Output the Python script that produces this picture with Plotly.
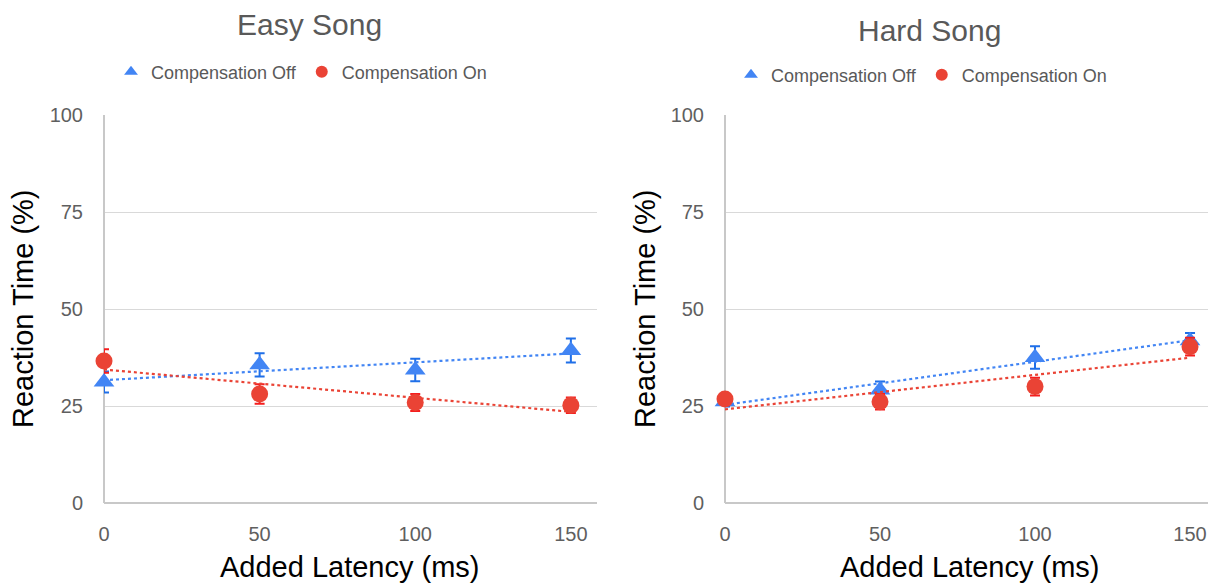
import numpy as np
import plotly.graph_objects as go

latency = [0, 50, 100, 150]
tick_vals_x = [0, 50, 100, 150]
tick_vals_y = [0, 25, 50, 75, 100]

easy_off = [31.2, 35.6, 34.3, 39.3]
easy_off_err = [2.7, 3.0, 2.9, 3.1]
easy_on = [36.6, 28.1, 25.9, 25.2]
easy_on_err = [3.0, 2.5, 2.2, 2.0]

hard_off = [26.1, 29.1, 37.5, 41.8]
hard_off_err = [1.2, 2.2, 2.9, 2.0]
hard_on = [26.8, 26.1, 30.0, 40.3]
hard_on_err = [1.3, 2.0, 2.3, 2.3]

BLUE = "#4285F4"
RED = "#EA4335"
BLUE_ERR = "#1F6FE8"
RED_ERR = "#F51E1E"
FONT = "Arial, 'Liberation Sans', sans-serif"

fig = go.Figure()


def add_series(xa, ya, y, err, color, ecolor, symbol, size, name, legend):
    fig.add_trace(go.Scatter(
        x=latency, y=y, mode="markers", xaxis=xa, yaxis=ya,
        marker=dict(color=color, size=size, symbol=symbol),
        error_y=dict(type="data", array=err, color=ecolor, thickness=2, width=5),
        showlegend=False, cliponaxis=False, name=name))
    # linear trendline
    slope, intercept = np.polyfit(latency, y, 1)
    xs = np.array([latency[0], latency[-1]])
    fig.add_trace(go.Scatter(
        x=xs, y=slope * xs + intercept, mode="lines", xaxis=xa, yaxis=ya,
        line=dict(color=color, width=2.2, dash="dot"), showlegend=False,
        hoverinfo="skip", cliponaxis=False))
    # legend entry
    fig.add_trace(go.Scatter(
        x=[None], y=[None], mode="markers", xaxis=xa, yaxis=ya,
        marker=dict(color=color, size=12, symbol=symbol),
        name=name, legend=legend, showlegend=True))


add_series("x", "y", easy_off, easy_off_err, BLUE, BLUE_ERR, "triangle-up", 18, "Compensation Off", "legend")
add_series("x", "y", easy_on, easy_on_err, RED, RED_ERR, "circle", 17, "Compensation On", "legend")
add_series("x2", "y2", hard_off, hard_off_err, BLUE, BLUE_ERR, "triangle-up", 18, "Compensation Off", "legend2")
add_series("x2", "y2", hard_on, hard_on_err, RED, RED_ERR, "circle", 17, "Compensation On", "legend2")

W, H = 1208, 583
ydom = [1 - 503 / H, 1 - 115 / H]

axis_common_x = dict(showgrid=False, zeroline=True, zerolinecolor="#c8c8c8", zerolinewidth=1.5,
                     showline=False, automargin=False,
                     tickvals=tick_vals_x, ticklabelstandoff=17,
                     tickfont=dict(family=FONT, size=20, color="#5f5f5f"))
axis_common_y = dict(range=[0, 100], tickvals=tick_vals_y, showgrid=True, automargin=False,
                     gridcolor="#d9d9d9", gridwidth=1,
                     zeroline=True, zerolinecolor="#c8c8c8", zerolinewidth=1.5,
                     showline=False,
                     ticklabelstandoff=20,
                     tickfont=dict(family=FONT, size=20, color="#5f5f5f"))

legend_common = dict(orientation="h", yanchor="middle", xanchor="left",
                     font=dict(family=FONT, size=18, color="#595959"),
                     bgcolor="rgba(0,0,0,0)", itemwidth=30, tracegroupgap=0)


def ann(text, x, y, size, color, angle=0):
    return dict(text=text, x=x / W, y=1 - y / H, xref="paper", yref="paper",
                xanchor="center", yanchor="middle", showarrow=False, textangle=angle,
                font=dict(family=FONT, size=size, color=color))


fig.update_layout(
    width=W, height=H, autosize=False,
    margin=dict(l=0, r=0, t=0, b=0, pad=0),
    paper_bgcolor="white", plot_bgcolor="white",
    xaxis=dict(domain=[104 / W, 597 / W], range=[0, 158.4], anchor="y", **axis_common_x),
    yaxis=dict(domain=ydom, anchor="x", **axis_common_y),
    xaxis2=dict(domain=[725 / W, 1.0], range=[0, 155.8], anchor="y2", **axis_common_x),
    yaxis2=dict(domain=ydom, anchor="x2", **axis_common_y),
    legend=dict(x=111 / W, y=1 - 72 / H, **legend_common),
    legend2=dict(x=731 / W, y=1 - 75 / H, **legend_common),
    annotations=[
        ann("Easy Song", 309, 24, 30, "#595959"),
        ann("Hard Song", 929, 30, 30, "#595959"),
        ann("Added Latency (ms)", 350, 567, 29, "#000000"),
        ann("Added Latency (ms)", 970, 567, 29, "#000000"),
        ann("Reaction Time (%)", 23, 309, 29, "#000000", -90),
        ann("Reaction Time (%)", 645, 309, 29, "#000000", -90),
    ],
)

fig.write_html("out.html")
